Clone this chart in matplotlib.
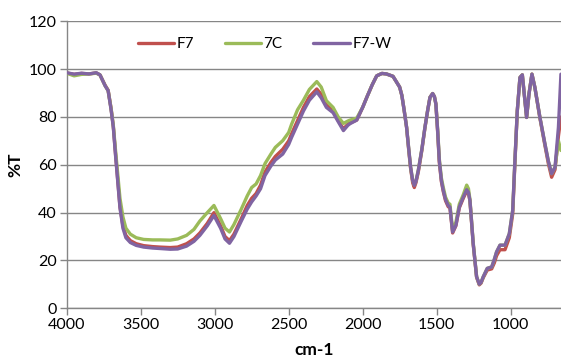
import matplotlib

matplotlib.use("Agg")
import matplotlib.pyplot as plt  # noqa: E402

# wavenumber grid (cm-1) shared by the three spectra
wavenumber = [
    4000, 3950, 3900, 3850, 3800, 3775, 3740, 3720, 3700, 3685,
    3670, 3655, 3640, 3620, 3600, 3570, 3530, 3480, 3420, 3370,
    3300, 3250, 3190, 3140, 3100, 3050, 3005, 2960, 2930, 2900,
    2870, 2820, 2780, 2750, 2720, 2690, 2660, 2620, 2590, 2540,
    2500, 2480, 2440, 2400, 2360, 2310, 2280, 2245, 2200, 2165,
    2130, 2100, 2085, 2040, 2000, 1970, 1935, 1905, 1870, 1840,
    1795, 1770, 1750, 1735, 1720, 1703, 1690, 1676, 1662, 1651,
    1640, 1624, 1600, 1579, 1560, 1545, 1527, 1515, 1505, 1493,
    1482, 1468, 1455, 1440, 1422, 1410, 1392, 1370, 1347, 1320,
    1297, 1285, 1275, 1253, 1230, 1212, 1200, 1185, 1158, 1128,
    1110, 1095, 1072, 1038, 1009, 986, 971, 955, 937, 921,
    908, 892, 876, 856, 836, 802, 768, 745, 723, 700,
    677, 660,
]

f7w = [
    98.5, 97.9, 98.3, 98.0, 98.5, 97.6, 93.0, 91.0, 83.0, 75.7,
    64.0, 53.0, 42.0, 33.5, 29.5, 27.5, 26.3, 25.6, 25.2, 25.0,
    24.7, 24.8, 26.0, 28.0, 30.5, 34.5, 38.8, 33.5, 29.0, 27.2,
    30.0, 36.5, 41.5, 44.5, 47.0, 50.0, 55.5, 59.5, 62.0, 64.5,
    68.5, 71.5, 77.0, 82.5, 87.0, 90.5, 88.0, 84.0, 81.8, 78.0,
    74.3, 76.5, 77.2, 78.7, 84.0, 88.5, 93.5, 97.2, 98.2, 98.0,
    97.0, 94.5, 92.5, 89.0, 83.0, 75.7, 67.5, 59.0, 53.5, 51.4,
    53.0, 57.6, 66.5, 75.7, 83.0, 88.2, 89.8, 88.5, 85.4, 74.0,
    61.8, 53.5, 49.3, 45.5, 43.0, 42.3, 31.9, 34.7, 42.3, 46.5,
    49.6, 48.5, 45.1, 27.1, 13.2, 10.1, 10.8, 13.2, 16.7, 17.3,
    20.5, 23.6, 26.4, 26.4, 31.2, 41.0, 61.8, 82.6, 96.5, 97.6,
    89.6, 79.8, 89.6, 97.9, 92.3, 79.8, 68.7, 61.5, 56.3, 59.0,
    75.7, 97.9,
]

c7 = [
    98.3, 97.2, 97.8, 98.0, 98.3, 97.6, 93.0, 91.0, 83.5, 76.5,
    66.0, 56.0, 46.0, 38.2, 33.5, 31.0, 29.5, 28.8, 28.6, 28.6,
    28.5, 29.0, 30.5, 33.0, 36.5, 40.0, 43.0, 37.5, 33.5, 31.9,
    35.0, 41.5, 47.0, 50.5, 52.0, 55.5, 60.5, 64.5, 67.3, 70.1,
    73.5, 77.0, 83.0, 87.0, 91.5, 94.8, 92.5, 86.8, 84.0, 80.0,
    77.3, 78.3, 78.7, 79.5, 84.0, 88.5, 93.5, 97.2, 98.2, 98.0,
    97.0, 94.5, 92.5, 89.0, 83.0, 75.7, 67.5, 59.0, 53.5, 51.6,
    53.2, 57.8, 66.5, 75.7, 83.0, 88.2, 89.8, 88.5, 85.4, 74.5,
    62.5, 54.5, 50.5, 46.5, 44.0, 43.5, 32.5, 36.0, 43.5, 47.5,
    51.5, 50.0, 45.5, 27.5, 13.2, 10.1, 10.8, 13.2, 16.7, 17.3,
    20.5, 23.6, 26.4, 26.4, 31.2, 41.0, 61.8, 82.6, 96.5, 97.6,
    89.6, 79.8, 89.6, 97.9, 92.3, 79.8, 68.7, 61.5, 56.3, 59.0,
    70.0, 66.0,
]

f7 = [
    98.4, 97.8, 98.2, 98.0, 98.4, 97.6, 93.2, 91.2, 83.5, 76.0,
    64.5, 53.5, 42.5, 34.5, 30.5, 28.3, 27.0, 26.2, 25.8, 25.6,
    25.4, 25.6, 27.0, 29.0, 31.5, 35.5, 40.0, 34.5, 30.0, 28.3,
    31.0, 37.5, 43.0, 46.0, 48.0, 51.5, 57.0, 61.0, 63.5, 66.5,
    70.0, 73.0, 78.5, 84.0, 88.5, 91.7, 89.5, 85.0, 82.5, 78.5,
    75.0, 77.0, 77.5, 78.7, 84.0, 88.5, 93.5, 97.2, 98.2, 98.0,
    97.0, 94.5, 92.5, 89.0, 83.0, 75.5, 67.0, 58.5, 52.5, 50.5,
    52.5, 57.0, 66.0, 75.5, 83.0, 88.2, 89.8, 88.5, 85.4, 73.5,
    61.0, 53.0, 48.8, 45.0, 42.5, 42.0, 31.5, 34.5, 42.0, 46.0,
    49.0, 48.0, 45.0, 26.8, 13.0, 9.8, 10.5, 12.8, 16.0, 16.5,
    19.0, 22.0, 24.5, 24.5, 29.5, 39.5, 61.0, 82.6, 96.5, 97.6,
    89.6, 79.8, 89.6, 97.9, 92.3, 79.5, 68.0, 60.5, 54.8, 58.0,
    72.0, 80.0,
]

SERIES = [("F7", f7, "#c0504d"), ("7C", c7, "#9bbb59"), ("F7-W", f7w, "#8064a2")]
GRID = "#868686"

plt.rcParams["font.family"] = ["Lato", "DejaVu Sans"]

fig = plt.figure(figsize=(5.61, 3.58), dpi=100)
ax = fig.add_axes([0.1189, 0.1388, 0.881, 0.8017])

for name, vals, color in SERIES:
    ax.plot(wavenumber, vals, color=color, lw=2.4, label=name,
            solid_joinstyle="round", solid_capstyle="round", zorder=3)

ax.set_xlim(4000, 660)
ax.set_ylim(0, 120)
ax.set_xticks([4000, 3500, 3000, 2500, 2000, 1500, 1000])
ax.set_yticks(range(0, 121, 20))
ax.grid(axis="y", color=GRID, lw=1.0, zorder=0)
for s in ("top", "right"):
    ax.spines[s].set_visible(False)
for s in ("left", "bottom"):
    ax.spines[s].set_color(GRID)
    ax.spines[s].set_linewidth(1.0)
ax.tick_params(axis="both", length=5, width=1.0, color=GRID, labelsize=11.5,
               labelcolor="black", pad=2)

ax.set_xlabel("cm-1", fontsize=12.5, fontweight="bold", labelpad=7)
ax.set_ylabel("%T", fontsize=12.5, fontweight="bold", labelpad=4)

ax.legend(loc="center", bbox_to_anchor=(0.40, 0.92), ncol=3, frameon=False,
          fontsize=11, handlelength=2.4, handletextpad=0.15, columnspacing=2.0)

fig.savefig("out.png", dpi=100)
